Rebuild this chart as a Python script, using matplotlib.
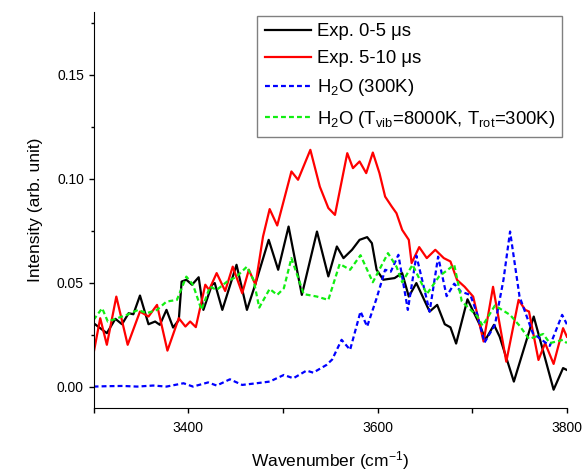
import matplotlib
matplotlib.use('Agg')
import matplotlib.pyplot as plt
from matplotlib.ticker import MultipleLocator, FixedLocator, FormatStrFormatter

plt.rcParams['font.family'] = ['Liberation Sans', 'DejaVu Sans']
plt.rcParams['mathtext.fontset'] = 'custom'
plt.rcParams['mathtext.rm'] = 'Liberation Sans'
plt.rcParams['mathtext.it'] = 'Liberation Sans:italic'

# Exp. 0-5 us
exp1_x = [3300, 3314, 3323, 3330, 3337, 3342, 3349, 3358, 3365, 3370, 3377, 3384, 3390,
          3393, 3398, 3404, 3411, 3416, 3425, 3428, 3436, 3451, 3462, 3470, 3485, 3495,
          3506, 3520, 3536, 3548, 3557, 3564, 3573, 3581, 3589, 3594, 3599, 3606, 3618,
          3626, 3633, 3641, 3655, 3663, 3671, 3677, 3683, 3695, 3708, 3714, 3723, 3729,
          3744, 3765, 3786, 3796, 3800]
exp1_y = [0.0305, 0.0257, 0.0326, 0.0300, 0.0353, 0.0348, 0.0438, 0.0300, 0.0313, 0.0297,
          0.0369, 0.0284, 0.0320, 0.0505, 0.0514, 0.0490, 0.0526, 0.0369, 0.0490, 0.0498,
          0.0369, 0.0586, 0.0369, 0.0480, 0.0706, 0.0562, 0.0770, 0.0441, 0.0746, 0.0530,
          0.0674, 0.0618, 0.0658, 0.0706, 0.0719, 0.0690, 0.0562, 0.0514, 0.0522, 0.0546,
          0.0433, 0.0498, 0.0361, 0.0393, 0.0300, 0.0285, 0.0207, 0.0420, 0.0297, 0.0225,
          0.0297, 0.0240, 0.0024, 0.0337, -0.0015, 0.0089, 0.0080]

# Exp. 5-10 us
exp2_x = [3300, 3307, 3314, 3324, 3336, 3349, 3358, 3367, 3378, 3390, 3397, 3402, 3408,
          3418, 3422, 3430, 3439, 3447, 3457, 3464, 3471, 3479, 3486, 3494, 3509, 3516,
          3529, 3539, 3548, 3555, 3568, 3574, 3581, 3588, 3595, 3602, 3608, 3615, 3620,
          3626, 3633, 3636, 3644, 3652, 3661, 3670, 3677, 3684, 3692, 3701, 3712, 3722,
          3736, 3749, 3756, 3760, 3770, 3777, 3786, 3796, 3800]
exp2_y = [0.0161, 0.0329, 0.0201, 0.0433, 0.0201, 0.0361, 0.0337, 0.0393, 0.0173, 0.0329,
          0.0289, 0.0313, 0.0286, 0.0490, 0.0465, 0.0546, 0.0460, 0.0577, 0.0449, 0.0562,
          0.0490, 0.0722, 0.0854, 0.0775, 0.1035, 0.0995, 0.1139, 0.0962, 0.0859, 0.0826,
          0.1123, 0.1051, 0.1083, 0.1027, 0.1126, 0.1027, 0.0914, 0.0866, 0.0834, 0.0754,
          0.0706, 0.0594, 0.0671, 0.0618, 0.0658, 0.0618, 0.0602, 0.0513, 0.0480, 0.0433,
          0.0217, 0.0480, 0.0120, 0.0417, 0.0369, 0.0361, 0.0128, 0.0209, 0.0109, 0.0281,
          0.0240]

# H2O, 300 K
h2o_x = [3300, 3315, 3331, 3346, 3363, 3377, 3395, 3405, 3421, 3430, 3444, 3457, 3472,
         3486, 3501, 3511, 3525, 3532, 3546, 3552, 3562, 3571, 3582, 3589, 3599, 3608,
         3614, 3622, 3632, 3641, 3655, 3664, 3673, 3681, 3688, 3698, 3705, 3713, 3724,
         3733, 3740, 3750, 3764, 3782, 3795, 3800]
h2o_y = [0.0000, 0.0002, 0.0003, 0.0000, 0.0005, 0.0000, 0.0016, 0.0000, 0.0020, 0.0005,
         0.0035, 0.0008, 0.0016, 0.0024, 0.0056, 0.0040, 0.0077, 0.0067, 0.0104, 0.0130,
         0.0225, 0.0177, 0.0361, 0.0289, 0.0425, 0.0562, 0.0553, 0.0634, 0.0369, 0.0630,
         0.0361, 0.0625, 0.0435, 0.0495, 0.0457, 0.0441, 0.0353, 0.0212, 0.0297, 0.0513,
         0.0746, 0.0433, 0.0257, 0.0196, 0.0345, 0.0300]

# H2O, Tvib = 8000 K, Trot = 300 K
hot_x = [3300, 3309, 3315, 3325, 3335, 3347, 3356, 3367, 3377, 3388, 3398, 3405, 3414,
         3423, 3430, 3441, 3451, 3462, 3469, 3475, 3486, 3494, 3501, 3509, 3522, 3536,
         3548, 3560, 3571, 3582, 3595, 3611, 3620, 3626, 3637, 3652, 3665, 3681, 3689,
         3705, 3711, 3724, 3740, 3750, 3760, 3775, 3782, 3796, 3800]
hot_y = [0.0321, 0.0377, 0.0313, 0.0329, 0.0345, 0.0369, 0.0353, 0.0369, 0.0409, 0.0417,
         0.0529, 0.0490, 0.0369, 0.0481, 0.0465, 0.0505, 0.0529, 0.0577, 0.0513, 0.0380,
         0.0470, 0.0441, 0.0473, 0.0618, 0.0445, 0.0433, 0.0417, 0.0590, 0.0562, 0.0632,
         0.0502, 0.0642, 0.0577, 0.0502, 0.0586, 0.0445, 0.0530, 0.0586, 0.0410, 0.0340,
         0.0293, 0.0390, 0.0345, 0.0293, 0.0229, 0.0253, 0.0209, 0.0225, 0.0209]

fig = plt.figure(figsize=(5.85, 4.73), dpi=100)
ax = fig.add_axes([0.16, 0.137, 0.809, 0.838])

line_kw = dict(lw=1.6, solid_joinstyle='round', dash_joinstyle='round')
ax.plot(exp1_x, exp1_y, color='black', label='Exp. 0-5 μs', **line_kw)
ax.plot(exp2_x, exp2_y, color='#ff0000', label='Exp. 5-10 μs', **line_kw)
ax.plot(h2o_x, h2o_y, color='#0000ff', dashes=(2.2, 1.4), label='H$_2$O (300K)', **line_kw)
ax.plot(hot_x, hot_y, color='#11ee11', dashes=(2.2, 1.4),
        label=r'H$_2$O (T$_{\mathrm{vib}}$=8000K, T$_{\mathrm{rot}}$=300K)', **line_kw)

ax.set_xlim(3300, 3800)
ax.set_ylim(-0.0104, 0.1803)

ax.spines['top'].set_visible(False)
ax.spines['right'].set_visible(False)

ax.xaxis.set_major_locator(FixedLocator([3400, 3600, 3800]))
ax.xaxis.set_minor_locator(FixedLocator([3300, 3500, 3700]))
ax.yaxis.set_major_locator(MultipleLocator(0.05))
ax.yaxis.set_minor_locator(MultipleLocator(0.025))
ax.yaxis.set_major_formatter(FormatStrFormatter('%.2f'))
ax.tick_params(axis='x', which='both', direction='out', length=3.3, width=1, labelsize=10, pad=6)
ax.tick_params(axis='y', which='major', direction='out', length=3.5, width=1, labelsize=10)
ax.tick_params(axis='y', which='minor', direction='out', length=2.3, width=1)

ax.set_xlabel('Wavenumber (cm$^{-1}$)', fontsize=12.5, labelpad=10)
ax.set_ylabel('Intensity (arb. unit)', fontsize=12.5, labelpad=10)

leg = ax.legend(loc='upper right', bbox_to_anchor=(0.990, 0.990), fontsize=13.3,
                frameon=True, fancybox=False, edgecolor='#808080', framealpha=1,
                handlelength=2.5, handletextpad=0.3, labelspacing=0.55,
                borderpad=0.4, borderaxespad=0)
leg.get_frame().set_linewidth(1.0)

fig.savefig('out.png', dpi=100)
